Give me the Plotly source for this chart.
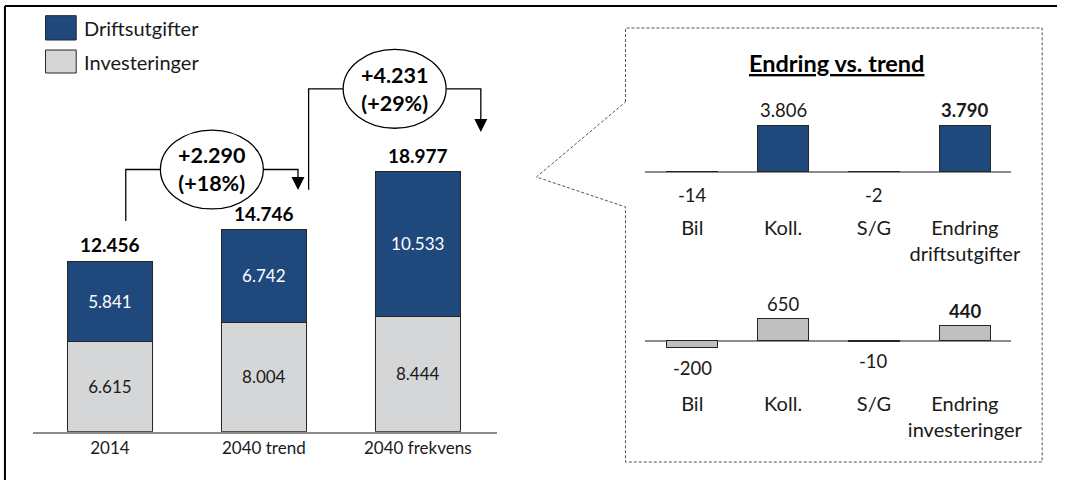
import plotly.graph_objects as go

# data
periods = ["2014", "2040 trend", "2040 frekvens"]
investeringer = [6615, 8004, 8444]
driftsutgifter = [5841, 6742, 10533]

endring_kat = ["Bil", "Koll.", "S/G"]
endring_drift = [-14, 3806, -2]
endring_inv = [-200, 650, -10]
sum_drift_label = "Endring<br>driftsutgifter"
sum_inv_label = "Endring<br>investeringer"

BLUE = "#1F497D"
LGRAY = "#D5D6D8"
MGRAY = "#BFBFBF"
EDGE = "#262626"
AXIS = "#8C8C8C"
TXT = "#1a1a1a"
FONT = "Lato"
W, H = 1068, 480


def fx(px):
    return px / W


def fy(py):
    return 1 - py / H


def nok(v):
    return f"{v:,}".replace(",", ".")


totals = [a + b for a, b in zip(investeringer, driftsutgifter)]
xs = list(range(len(periods)))

# main chart pixel geometry
base_px, scale_main = 431.7, 0.0137     # px per unit
top_px = 20

fig = go.Figure()
fig.add_trace(go.Bar(x=xs, y=investeringer, name="Investeringer", marker=dict(color=LGRAY, line=dict(color=EDGE, width=1)),
                     text=[nok(v) for v in investeringer], textposition="inside", insidetextanchor="middle",
                     textfont=dict(size=17, color=TXT, family=FONT), width=0.55, xaxis="x", yaxis="y"))
fig.add_trace(go.Bar(x=xs, y=driftsutgifter, name="Driftsutgifter", marker=dict(color=BLUE, line=dict(color=EDGE, width=1)),
                     text=[nok(v) for v in driftsutgifter], textposition="inside", insidetextanchor="middle",
                     textfont=dict(size=17, color="white", family=FONT), width=0.55, xaxis="x", yaxis="y"))

for x, t in zip(xs, totals):
    fig.add_annotation(x=x, y=t, xref="x", yref="y", text=f"<b>{nok(t)}</b>", showarrow=False,
                       yanchor="bottom", yshift=3, font=dict(size=19, color="#000", family=FONT))

# change brackets between bars
brackets = [
    dict(i=0, a=0.103, b=0.222, cy=19139, cx=0.6625),
    dict(i=1, a=0.291, b=0.41, cy=25029, cx=1.85),
]
rx, ry = 0.3345, 2880
for br in brackets:
    i = br["i"]
    d = totals[i + 1] - totals[i]
    pct = round(100 * d / totals[i])
    x0 = i + br["a"]
    y0 = totals[i] + 2920
    x1 = i + 1 + br["b"]
    y1 = totals[i + 1] + 2900
    cx, cy = br["cx"], br["cy"]
    line = dict(color="#000", width=1.3)
    fig.add_shape(type="path", xref="x", yref="y", line=line,
                  path=f"M {x0},{y0} L {x0},{cy} L {cx - rx},{cy}")
    fig.add_shape(type="path", xref="x", yref="y", line=line,
                  path=f"M {cx + rx},{cy} L {x1},{cy} L {x1},{y1 + 600}")
    fig.add_annotation(x=x1, y=y1, ax=x1, ay=y1 + 900, xref="x", yref="y", axref="x", ayref="y",
                       showarrow=True, arrowhead=2, arrowsize=2, arrowwidth=1.3, arrowcolor="#000", text="")
    fig.add_shape(type="circle", xref="x", yref="y", x0=cx - rx, x1=cx + rx, y0=cy - ry, y1=cy + ry,
                  line=line, fillcolor="white")
    fig.add_annotation(x=cx, y=cy, xref="x", yref="y", text=f"<b>+{nok(d)}<br>(+{pct}%)</b>", showarrow=False,
                       font=dict(size=21.5, color="#000", family=FONT))

# right panel charts
rx_idx = list(range(len(endring_kat) + 1))
drift_vals = endring_drift + [sum(endring_drift)]
inv_vals = endring_inv + [sum(endring_inv)]
kat_drift = endring_kat + [sum_drift_label]
kat_inv = endring_kat + [sum_inv_label]

fig.add_trace(go.Bar(x=rx_idx, y=drift_vals, marker=dict(color=BLUE, line=dict(color=EDGE, width=1)),
                     width=0.566, xaxis="x2", yaxis="y2", showlegend=False))
fig.add_trace(go.Bar(x=rx_idx, y=inv_vals, marker=dict(color=MGRAY, line=dict(color=EDGE, width=1)),
                     width=0.566, xaxis="x3", yaxis="y3", showlegend=False))

for ax, vals in (("2", drift_vals), ("3", inv_vals)):
    for k, v in enumerate(vals):
        txt = nok(v)
        if k == len(vals) - 1:
            txt = f"<b>{txt}</b>"
        fig.add_annotation(x=k, y=v, xref="x" + ax, yref="y" + ax, text=txt, showarrow=False,
                           yshift=15 if v > 0 else (-23 if ax == "2" else -20), yanchor="middle",
                           font=dict(size=18.5, color=TXT, family=FONT))

fig.add_annotation(x=fx(845), y=fy(63), xref="paper", yref="paper", text="<b><u>Endring vs. trend</u></b>",
                   showarrow=False, xanchor="center", yanchor="middle", font=dict(size=23.5, color="#000", family=FONT))

# legend
for (y0, y1), lab, col in (((15.7, 40), "Driftsutgifter", BLUE), ((50, 73), "Investeringer", LGRAY)):
    fig.add_shape(type="rect", xref="paper", yref="paper", x0=fx(46), x1=fx(77), y0=fy(y1), y1=fy(y0),
                  fillcolor=col, line=dict(color=EDGE, width=1))
    fig.add_annotation(x=fx(83), y=fy((y0 + y1) / 2), xref="paper", yref="paper", text=lab, showarrow=False,
                       xanchor="left", yanchor="middle", font=dict(size=20, color=TXT, family=FONT))

# callout panel with wedge
pts = [(632, 102), (632, 28), (1053, 28), (1053, 462), (632, 462), (632, 207), (542, 177), (632, 102)]
path = "M " + " L ".join(f"{fx(a)},{fy(b)}" for a, b in pts)
fig.add_shape(type="path", xref="paper", yref="paper", path=path, line=dict(color="#555", width=1, dash="3px,2px"))

# outer frame (top and left)
fig.add_shape(type="line", xref="paper", yref="paper", x0=fx(5), x1=1, y0=fy(6), y1=fy(6), line=dict(color="#000", width=2))
fig.add_shape(type="line", xref="paper", yref="paper", x0=fx(5), x1=fx(5), y0=0, y1=fy(6), line=dict(color="#000", width=2))

# axes
up_base, up_scale = 171.7, 0.01227
lo_base, lo_scale = 340.7, 0.034
tickfont = dict(size=17, color=TXT, family=FONT)
rtickfont = dict(size=20, color=TXT, family=FONT)
fig.update_layout(
    width=W, height=H, margin=dict(l=0, r=0, t=0, b=0), barmode="stack", showlegend=False,
    plot_bgcolor="white", paper_bgcolor="white", font=dict(family=FONT),
    xaxis=dict(domain=[fx(33), fx(502)], range=[-0.502, 2.514], tickvals=xs, ticktext=periods, showgrid=False,
               zeroline=False, showline=True, linecolor=AXIS, linewidth=2, ticks="", tickfont=tickfont),
    yaxis=dict(domain=[fy(base_px), fy(top_px)], range=[0, (base_px - top_px) / scale_main], visible=False),
    xaxis2=dict(domain=[fx(652), fx(1022)], range=[-0.517, 3.513], anchor="y2", tickvals=rx_idx, ticktext=kat_drift,
                showgrid=False, zeroline=False, showline=False, ticks="", tickfont=rtickfont),
    yaxis2=dict(domain=[fy(214), fy(80)], range=[-(214 - up_base) / up_scale, (up_base - 80) / up_scale], anchor="x2",
                showgrid=False, showticklabels=False, zeroline=True, zerolinecolor=AXIS, zerolinewidth=2),
    xaxis3=dict(domain=[fx(652), fx(1022)], range=[-0.517, 3.513], anchor="y3", tickvals=rx_idx, ticktext=kat_inv,
                showgrid=False, zeroline=False, showline=False, ticks="", tickfont=rtickfont),
    yaxis3=dict(domain=[fy(390), fy(290)], range=[-(390 - lo_base) / lo_scale, (lo_base - 290) / lo_scale], anchor="x3",
                showgrid=False, showticklabels=False, zeroline=True, zerolinecolor=AXIS, zerolinewidth=2),
)

fig.write_html("out.html", config={"displayModeBar": False}, post_script="document.body.style.margin='0';")
